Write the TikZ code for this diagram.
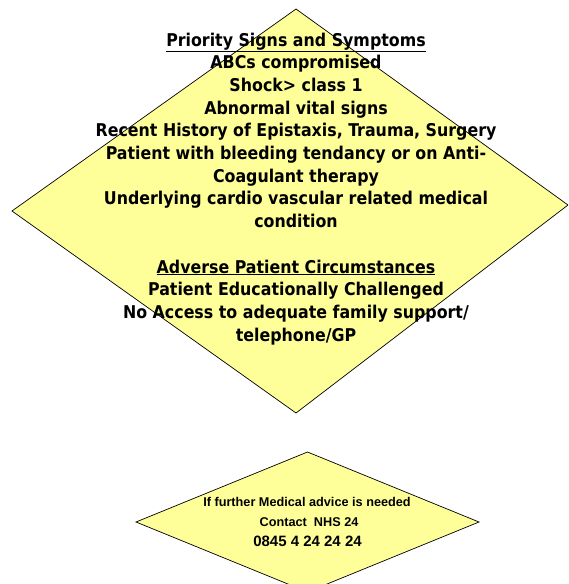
\documentclass[tikz,border=0pt]{standalone}
\usepackage{fontspec}
\setmainfont{DejaVu Sans Condensed}
\newfontfamily\arialb{Liberation Sans}[BoldFont={Liberation Sans Bold}]
\usetikzlibrary{shapes.geometric}
\definecolor{pale}{RGB}{255,255,153}
\tikzset{
  dia/.style={draw=black, line width=0.7pt, fill=pale, line join=miter},
  bigline/.style={anchor=base, inner sep=0pt, font=\fontsize{17.6}{20}\selectfont\bfseries},
  smline/.style={anchor=base, inner sep=0pt, font=\arialb\fontsize{12.7}{14}\selectfont\bfseries},
  numline/.style={anchor=base, inner sep=0pt, font=\arialb\fontsize{15}{17}\selectfont\bfseries}
}
\begin{document}
\begin{tikzpicture}[x=1pt,y=-1pt]
\useasboundingbox (0,0) rectangle (568,584);
\coordinate (bt) at (296,9);
\coordinate (br) at (568,205);
\coordinate (bb) at (296,413);
\coordinate (bl) at (12,211);
\coordinate (st) at (307.5,452);
\coordinate (sr) at (479,522);
\coordinate (sb) at (307.5,592);
\coordinate (sl) at (136,522);
\begin{scope}
\clip (0,0) rectangle (568,584);
\draw[dia] (bt) -- (br) -- (bb) -- (bl) -- cycle;
\draw[dia] (st) -- (sr) -- (sb) -- (sl) -- cycle;
\end{scope}
\node[bigline] (t0) at (296,46) {\underline{Priority Signs and Symptoms}};
\node[bigline] (t1) at (296,68.7) {ABCs compromised};
\node[bigline] (t2) at (296,91.4) {Shock> class 1};
\node[bigline] (t3) at (296,114.1) {Abnormal vital signs};
\node[bigline] (t4) at (296,136.8) {Recent History of Epistaxis, Trauma, Surgery};
\node[bigline] (t5) at (296,159.5) {Patient with bleeding tendancy or on Anti-};
\node[bigline] (t6) at (296,182.2) {Coagulant therapy};
\node[bigline] (t7) at (296,204.9) {Underlying cardio vascular related medical};
\node[bigline] (t8) at (296,227.6) {condition};
\node[bigline] (t10) at (296,273) {\underline{Adverse Patient Circumstances}};
\node[bigline] (t11) at (296,295.7) {Patient Educationally Challenged};
\node[bigline] (t12) at (296,318.4) {No Access to adequate family support/};
\node[bigline] (t13) at (296,341.1) {telephone/GP};
\node[smline] (s0) at (307,506) {If further Medical advice is needed};
\node[smline] (s1) at (309,526.5) {Contact\ \ NHS 24};
\node[numline] (s2) at (307.5,546) {0845 4 24 24 24};
\end{tikzpicture}
\end{document}
